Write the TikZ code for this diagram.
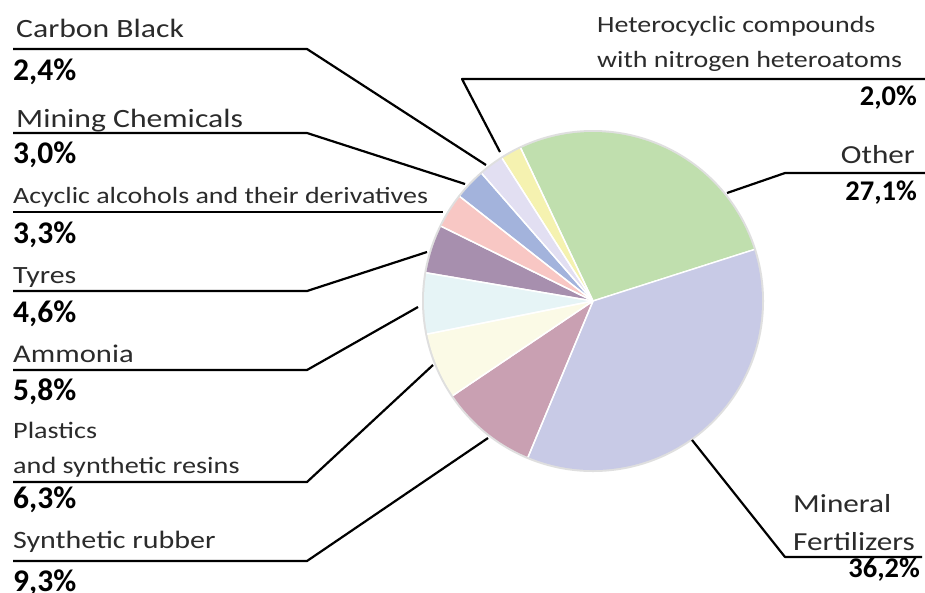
\documentclass[tikz,border=0pt]{standalone}
\usepackage{fontspec}
\setmainfont{Carlito}
\newfontfamily\labf{Carlito}[FakeStretch=1.2]
\newfontfamily\pctf{Carlito}
\definecolor{labc}{HTML}{2B2B2B}
\definecolor{cOther}{HTML}{C0DFAE}
\definecolor{cMin}{HTML}{C8CAE6}
\definecolor{cRub}{HTML}{C9A0B2}
\definecolor{cPla}{HTML}{FBFAE6}
\definecolor{cAmm}{HTML}{E6F4F6}
\definecolor{cTyr}{HTML}{A78FAE}
\definecolor{cAcy}{HTML}{F8C7C4}
\definecolor{cMinc}{HTML}{A3B3DC}
\definecolor{cCar}{HTML}{E2DFF2}
\definecolor{cHet}{HTML}{F5F2B0}
\tikzset{
  lab/.style={inner sep=0pt, text=labc, font=\labf\fontsize{#1}{#1}\selectfont},
  pctL/.style={inner sep=0pt, anchor=base west, text=black, font=\pctf\bfseries\fontsize{31.5}{31.5}\selectfont},
  pctR/.style={inner sep=0pt, anchor=base east, text=black, font=\pctf\bfseries\fontsize{28.5}{28.5}\selectfont},
  leader/.style={draw=black, line width=2.2pt, line join=round},
  wedge/.style={draw=white, line width=1.4pt, line join=round}
}
\newcommand{\mywedge}[3]{\fill[#3] (0,0) -- (#1:169pt) arc[start angle=#1, end angle=#2, radius=169pt] -- cycle;
  \draw[wedge] (0,0) -- (#1:169pt);}
\begin{document}
\begin{tikzpicture}[x=1pt,y=-1pt]
\useasboundingbox (0,0) rectangle (925,592);
\fill[white] (0,0) rectangle (925,592);
% pie
\begin{scope}[shift={(593,301)}]
  \fill[gray!25] (0,0) circle[radius=171pt];
  \mywedge{17.7}{115.3}{cOther}
  \mywedge{115.3}{122.5}{cHet}
  \mywedge{122.5}{131.1}{cCar}
  \mywedge{131.1}{141.9}{cMinc}
  \mywedge{141.9}{153.8}{cAcy}
  \mywedge{153.8}{170.4}{cTyr}
  \mywedge{170.4}{191.3}{cAmm}
  \mywedge{191.3}{214.0}{cPla}
  \mywedge{214.0}{247.4}{cRub}
  \mywedge{247.4}{377.7}{cMin}
  \foreach \a in {17.7,115.3,122.5,131.1,141.9,153.8,170.4,191.3,214.0,247.4}
    \draw[wedge] (0,0) -- (\a:169pt);
\end{scope}
% labels left
\node[lab=26.4, anchor=base west] (tCB) at (16,37) {Carbon Black};
\node[pctL] (pCB) at (13,80) {2,4\%};
\node[lab=26.4, anchor=base west] (tMC) at (16,127) {Mining Chemicals};
\node[pctL] (pMC) at (13,163) {3,0\%};
\node[lab=23.3, anchor=base west] (tAA) at (13,203) {Acyclic alcohols and their derivatives};
\node[pctL] (pAA) at (13,243) {3,3\%};
\node[lab=24.8, anchor=base west] (tTy) at (13,283) {Tyres};
\node[pctL] (pTy) at (13,322) {4,6\%};
\node[lab=25.5, anchor=base west] (tAm) at (13,362) {Ammonia};
\node[pctL] (pAm) at (13,400) {5,8\%};
\node[lab=23.5, anchor=base west] (tPl1) at (13,438) {Plastics};
\node[lab=23.5, anchor=base west] (tPl2) at (13,473) {and synthetic resins};
\node[pctL] (pPl) at (13,508) {6,3\%};
\node[lab=25, anchor=base west] (tSR) at (13,548) {Synthetic rubber};
\node[pctL] (pSR) at (13,591) {9,3\%};
% labels right
\node[lab=23.3, anchor=base west] (tHe1) at (597,32) {Heterocyclic compounds};
\node[lab=23.3, anchor=base west] (tHe2) at (597,67) {with nitrogen heteroatoms};
\node[pctR] (pHe) at (917,105) {2,0\%};
\node[lab=26, anchor=base east] (tOt) at (915,163) {Other};
\node[pctR] (pOt) at (917,200) {27,1\%};
\node[lab=26, anchor=base west] (tMF1) at (793,512) {Mineral};
\node[lab=26, anchor=base west] (tMF2) at (793,550) {Fertilizers};
\node[pctR] (pMF) at (920,577) {36,2\%};
% leader coordinates
\coordinate (cbA) at (13,49);  \coordinate (cbB) at (307,49);  \coordinate (cbC) at (486,165);
\coordinate (mcA) at (13,133); \coordinate (mcB) at (307,133); \coordinate (mcC) at (465,184);
\coordinate (aaA) at (13,212); \coordinate (aaC) at (443,212);
\coordinate (tyA) at (13,291); \coordinate (tyB) at (307,291); \coordinate (tyC) at (427,252);
\coordinate (amA) at (13,370); \coordinate (amB) at (307,370); \coordinate (amC) at (418,307);
\coordinate (plA) at (13,482); \coordinate (plB) at (307,482); \coordinate (plC) at (433,365);
\coordinate (srA) at (13,561); \coordinate (srB) at (307,561); \coordinate (srC) at (488,438);
\coordinate (heA) at (925,79); \coordinate (heB) at (462,79); \coordinate (heC) at (500,152);
\coordinate (otA) at (925,173); \coordinate (otB) at (785,173); \coordinate (otC) at (727,193);
\coordinate (mfA) at (922,557); \coordinate (mfB) at (785,557); \coordinate (mfC) at (692,440);
\draw[leader] (cbA) -- (cbB) -- (cbC);
\draw[leader] (mcA) -- (mcB) -- (mcC);
\draw[leader] (aaA) -- (aaC);
\draw[leader] (tyA) -- (tyB) -- (tyC);
\draw[leader] (amA) -- (amB) -- (amC);
\draw[leader] (plA) -- (plB) -- (plC);
\draw[leader] (srA) -- (srB) -- (srC);
\draw[leader] (heA) -- (heB) -- (heC);
\draw[leader] (otA) -- (otB) -- (otC);
\draw[leader] (mfA) -- (mfB) -- (mfC);
\end{tikzpicture}
\end{document}
